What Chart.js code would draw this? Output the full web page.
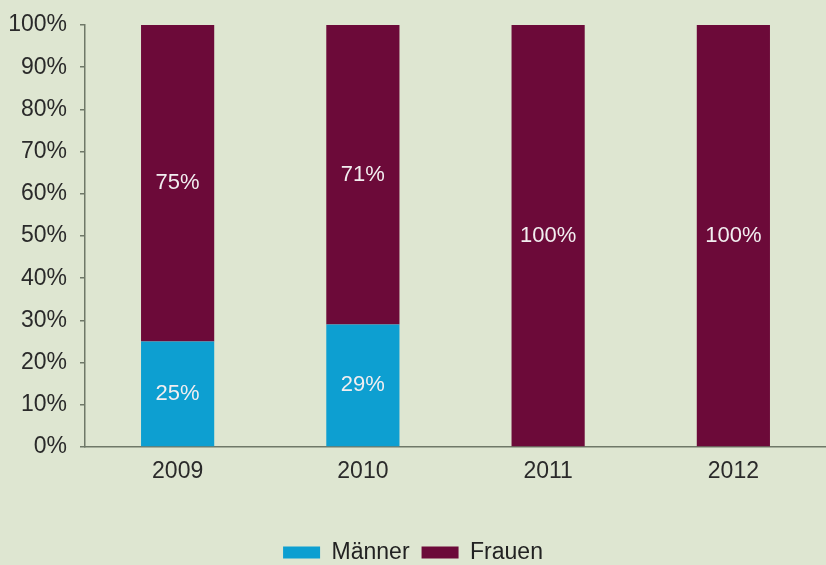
<!DOCTYPE html>
<html>
<head>
<meta charset="utf-8">
<script src="https://cdn.jsdelivr.net/npm/chart.js@4.4.8/dist/chart.umd.min.js"></script>
<style>
  html, body { margin: 0; padding: 0; background: #dee6d1; }
  #wrap { width: 826px; height: 565px; position: relative; }
</style>
</head>
<body>
<div id="wrap"><canvas id="chart"></canvas></div>
<script>
  // Daten
  const years = ['2009', '2010', '2011', '2012'];
  const maenner = [25, 29, 0, 0];
  const frauen = [75, 71, 100, 100];

  const FONT = "'Liberation Sans', Arial, sans-serif";
  const axisColor = '#6f7868';

  // Prozentwerte mittig in die Balken schreiben
  const barLabels = {
    id: 'barLabels',
    afterDatasetsDraw(chart) {
      const c = chart.ctx;
      c.save();
      c.font = '22px ' + FONT;
      c.fillStyle = '#f2eef0';
      c.textAlign = 'center';
      c.textBaseline = 'middle';
      chart.data.datasets.forEach((ds, i) => {
        const meta = chart.getDatasetMeta(i);
        meta.data.forEach((bar, j) => {
          const v = ds.data[j];
          if (!v) return;
          c.fillText(v + '%', bar.x, (bar.y + bar.base) / 2);
        });
      });
      c.restore();
    }
  };

  // Legende etwas tiefer setzen
  const legendDown = {
    id: 'legendDown',
    afterLayout(chart) {
      const lg = chart.legend;
      const d = 529 - lg.top;
      lg.top += d;
      lg.bottom += d;
    }
  };

  new Chart(document.getElementById('chart'), {
    type: 'bar',
    data: {
      labels: years,
      datasets: [
        { label: 'Männer', data: maenner, backgroundColor: '#0d9fd1', borderWidth: 0 },
        { label: 'Frauen', data: frauen, backgroundColor: '#6c0a39', borderWidth: 0 }
      ]
    },
    options: {
      responsive: true,
      maintainAspectRatio: false,
      animation: false,
      devicePixelRatio: 1,
      layout: { padding: { top: 25, bottom: 0, left: 0, right: 0 } },
      datasets: { bar: { categoryPercentage: 1, barPercentage: 0.395 } },
      plugins: {
        tooltip: { enabled: false },
        legend: {
          position: 'bottom',
          labels: {
            boxWidth: 37,
            boxHeight: 12,
            padding: 12,
            color: '#222',
            font: { size: 23, family: FONT }
          }
        }
      },
      scales: {
        x: {
          stacked: true,
          grid: { display: false },
          border: { color: axisColor, width: 1.5 },
          ticks: { color: '#2a2a2a', padding: 3, font: { size: 23, family: FONT } },
          afterFit(scale) { scale.height = 73; }
        },
        y: {
          stacked: true,
          min: 0,
          max: 100,
          grid: { drawOnChartArea: false, tickLength: 5, color: axisColor, lineWidth: 1.5 },
          border: { color: axisColor, width: 1.5 },
          ticks: {
            stepSize: 10,
            padding: 13,
            color: '#2a2a2a',
            font: { size: 23, family: FONT },
            callback: v => v + '%'
          },
          afterFit(scale) {
            scale.width = 85;
            scale.paddingTop = 0;
            scale.paddingBottom = 0;
          }
        }
      }
    },
    plugins: [barLabels, legendDown]
  });
</script>
</body>
</html>
